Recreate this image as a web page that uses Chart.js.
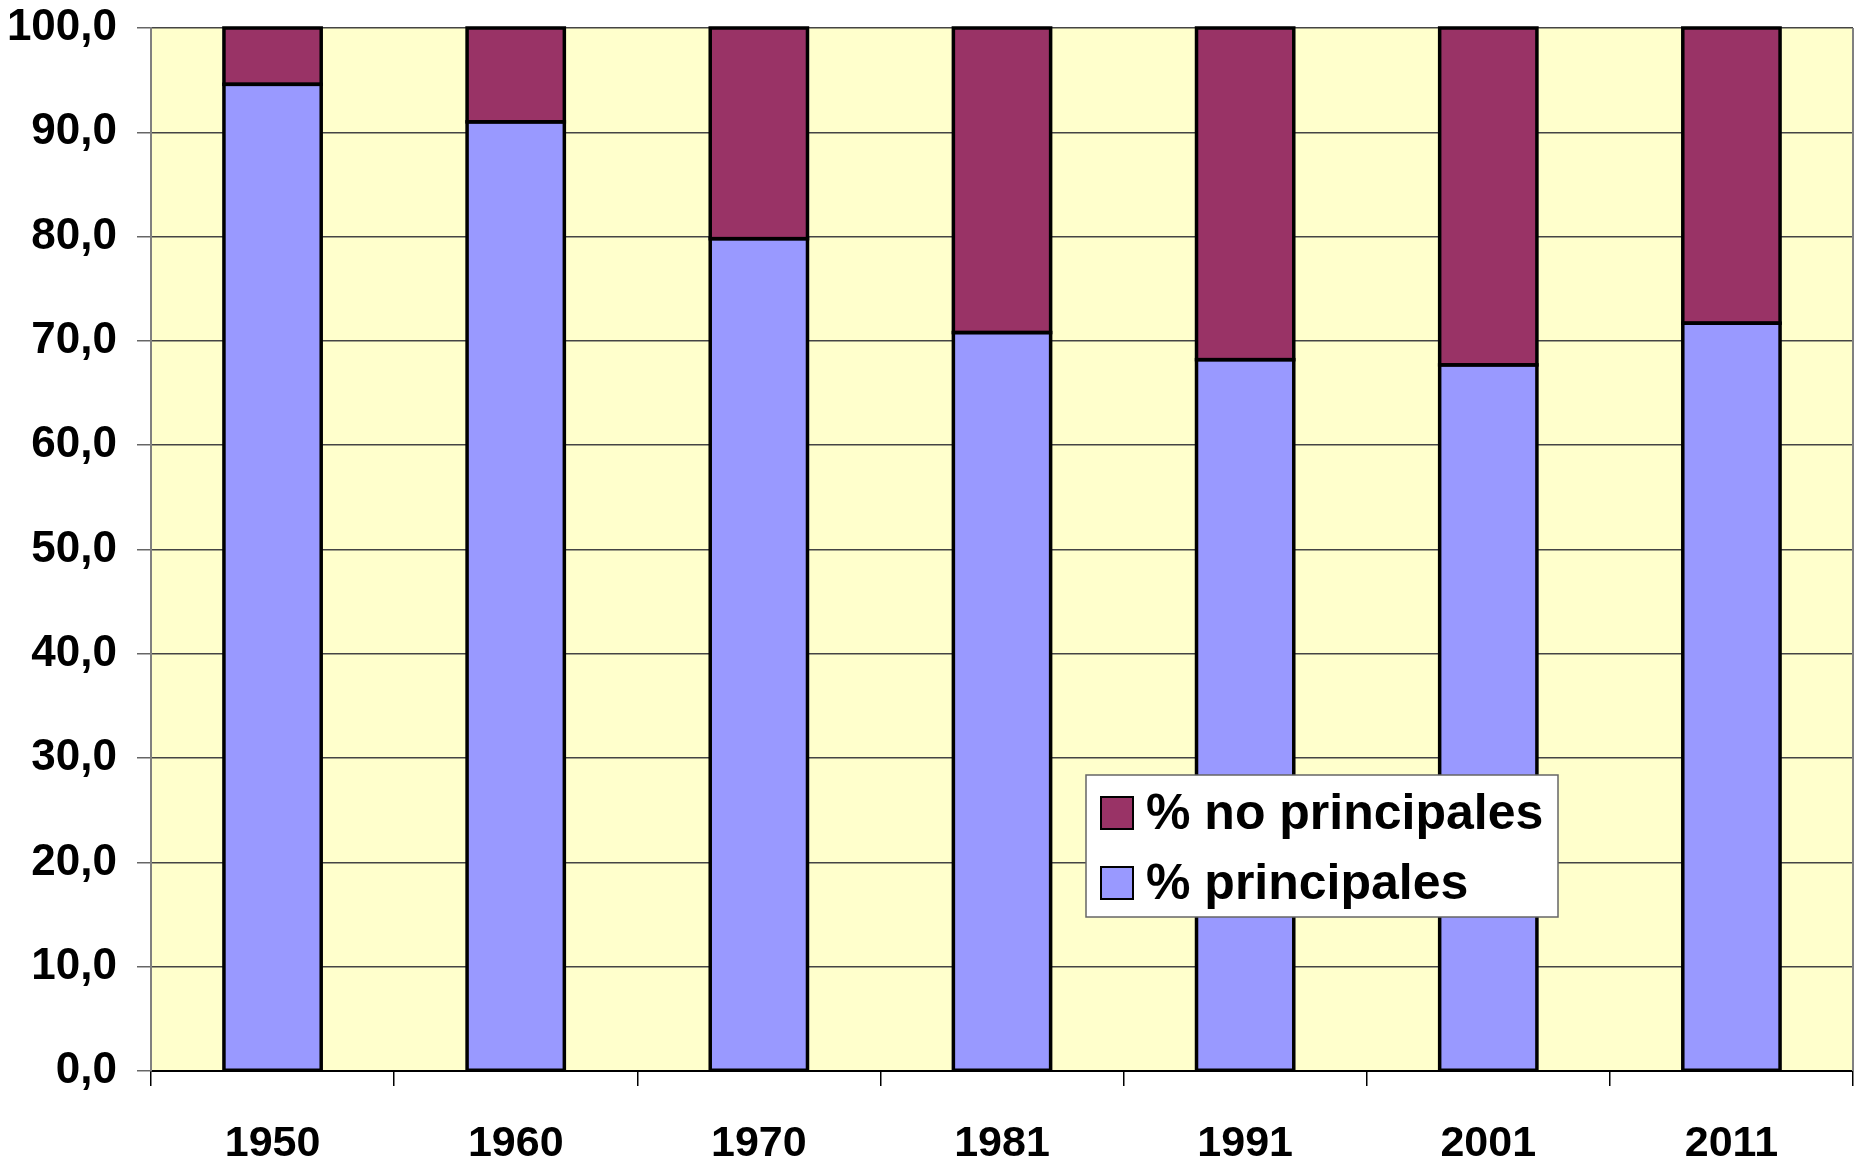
<!DOCTYPE html>
<html>
<head>
<meta charset="utf-8">
<script src="https://cdn.jsdelivr.net/npm/chart.js@4"></script>
<style>
html,body{margin:0;padding:0;background:#fff;}
#wrap{width:1864px;height:1158px;}
</style>
</head>
<body>
<div id="wrap"><canvas id="c" width="1864" height="1158"></canvas></div>
<script>
const years = ['1950','1960','1970','1981','1991','2001','2011'];
const principales = [94.6, 91.0, 79.8, 70.8, 68.2, 67.7, 71.7];
const noPrincipales = [5.4, 9.0, 20.2, 29.2, 31.8, 32.3, 28.3];
const labelPrincipales = '% principales';
const labelNoPrincipales = '% no principales';
const yTicks = [0,10,20,30,40,50,60,70,80,90,100];

const FONT = "'Liberation Sans', Arial, sans-serif";

const bgPlugin = {
  id: 'bg',
  beforeDraw(chart) {
    const {ctx, chartArea: a} = chart;
    ctx.save();
    ctx.fillStyle = '#FFFFCC';
    ctx.fillRect(a.left, a.top, a.right - a.left, a.bottom - a.top);
    ctx.restore();
  },
  afterDatasetsDraw(chart) {
    const {ctx, chartArea: a} = chart;
    ctx.save();
    // bar outlines (from the library's bar elements)
    ctx.strokeStyle = '#000';
    ctx.lineWidth = 3.5;
    chart.data.datasets.forEach((d, i) => {
      chart.getDatasetMeta(i).data.forEach(el => {
        const p = el.getProps(['x', 'y', 'base', 'width'], true);
        const top = Math.min(p.y, p.base), h = Math.abs(p.base - p.y);
        ctx.strokeRect(p.x - p.width / 2, top, p.width, h);
      });
    });
    ctx.strokeStyle = '#808080';
    ctx.lineWidth = 2;
    ctx.beginPath();
    ctx.moveTo(a.right, a.bottom);
    ctx.lineTo(a.right, a.top);
    ctx.stroke();
    ctx.restore();
  }
};

const legendPlugin = {
  id: 'boxLegend',
  afterDraw(chart) {
    const {ctx} = chart;
    const ds = chart.data.datasets.slice().reverse();
    const x0 = 1086, y0 = 775, w = 472, h = 142;
    ctx.save();
    ctx.fillStyle = '#fff';
    ctx.fillRect(x0, y0, w, h);
    ctx.strokeStyle = '#666';
    ctx.lineWidth = 1.5;
    ctx.strokeRect(x0, y0, w, h);
    ctx.font = "bold 50px " + FONT;
    ctx.textBaseline = 'middle';
    ds.forEach((d, i) => {
      const cy = 813 + i * 70;
      ctx.fillStyle = d.backgroundColor;
      ctx.fillRect(1101, cy - 16, 32, 32);
      ctx.strokeStyle = '#000';
      ctx.lineWidth = 2;
      ctx.strokeRect(1101, cy - 16, 32, 32);
      ctx.fillStyle = '#000';
      ctx.fillText(d.label, 1146, cy + 2);
    });
    ctx.restore();
  }
};

new Chart(document.getElementById('c'), {
  type: 'bar',
  data: {
    labels: years,
    datasets: [
      {label: labelPrincipales, data: principales, backgroundColor: '#9999FF', borderWidth: 0, inflateAmount: 0, barPercentage: 0.4, categoryPercentage: 1},
      {label: labelNoPrincipales, data: noPrincipales, backgroundColor: '#993366', borderWidth: 0, inflateAmount: 0, barPercentage: 0.4, categoryPercentage: 1}
    ]
  },
  options: {
    responsive: false,
    animation: false,
    devicePixelRatio: 1,
    layout: {padding: {top: 28, right: 11, left: 0, bottom: 0}},
    plugins: {legend: {display: false}, tooltip: {enabled: false}},
    scales: {
      x: {
        stacked: true,
        offset: true,
        grid: {display: true, offset: true, drawOnChartArea: false, drawTicks: true, tickLength: 15, color: '#000', lineWidth: 1.5},
        border: {display: true, color: '#000', width: 2},
        ticks: {color: '#000', font: {family: FONT, size: 43, weight: 'bold'}, padding: 32, maxRotation: 0},
        afterFit(s) { s.height = 87; s.paddingLeft = 0; s.paddingRight = 0; }
      },
      y: {
        stacked: true,
        min: 0, max: 100,
        afterBuildTicks(s) { s.ticks = yTicks.map(v => ({value: v})); },
        grid: {color: '#444', lineWidth: 1.5, tickLength: 14, drawTicks: true, tickColor: '#666'},
        border: {display: true, color: '#808080', width: 2},
        ticks: {color: '#000', font: {family: FONT, size: 44, weight: 'bold'}, padding: 20,
          callback: v => Number(v).toFixed(1).replace('.', ',')},
        afterFit(s) { s.width = 151; s.paddingTop = 0; s.paddingBottom = 0; }
      }
    }
  },
  plugins: [bgPlugin, legendPlugin]
});
</script>
</body>
</html>
